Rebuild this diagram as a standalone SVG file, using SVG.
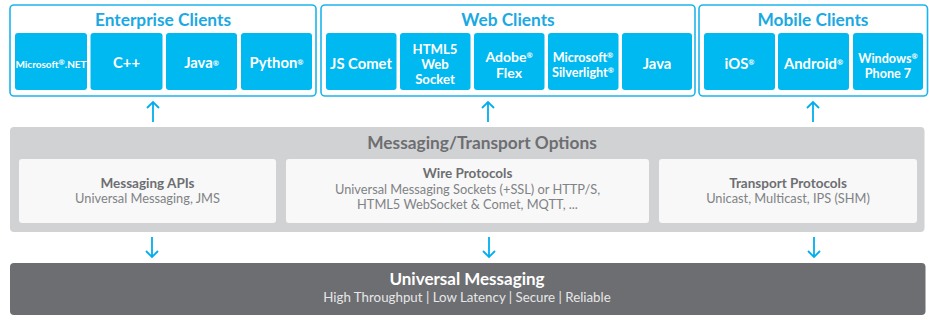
<svg xmlns="http://www.w3.org/2000/svg" width="929" height="320" viewBox="0 0 929 320">
<style>
.outer{fill:#fff;stroke:#1cb4ec;stroke-width:1.6}
.tile{fill:#00b9f0}
.ttl{font-family:Lato,"Open Sans",sans-serif;font-weight:bold;font-size:17.3px;fill:#1aa9e2;text-anchor:middle}
.tt{font-family:Lato,"Open Sans",sans-serif;font-weight:bold;font-size:14.8px;fill:#fff;text-anchor:middle}
.t3{font-size:13.2px}
.t2{font-size:14px}
.ts{font-size:12.6px}
.sup{font-size:7.5px}
.band{fill:#d1d2d4}
.inner{fill:#f8f8f8}
.h{font-family:Lato,"Open Sans",sans-serif;font-weight:bold;font-size:13.5px;fill:#6d6e71;text-anchor:middle}
.b{font-family:Lato,"Open Sans",sans-serif;font-size:12.8px;fill:#808285;text-anchor:middle}
.arr{stroke:#00aeef;stroke-width:1.8;fill:none}
</style>
<g id="enterprise">
<rect class="outer" x="10" y="5" width="306" height="91" rx="4"/>
<text class="ttl" x="163" y="26">Enterprise Clients</text>
<rect class="tile" x="15" y="33" width="72" height="57" rx="3"/>
<text class="tt" x="51" y="68" style="font-size:10px">Microsoft<tspan class="sup" dy="-3.5">®</tspan><tspan dy="3.5">.NET</tspan></text>
<rect class="tile" x="90.5" y="33" width="72" height="57" rx="3"/>
<text class="tt" x="126.5" y="68">C++</text>
<rect class="tile" x="166" y="33" width="71" height="57" rx="3"/>
<text class="tt" x="201.5" y="68">Java<tspan class="sup" dy="-2">®</tspan></text>
<rect class="tile" x="241" y="33" width="71" height="57" rx="3"/>
<text class="tt" x="276.5" y="68">Python<tspan class="sup" dy="-3">®</tspan></text>
</g>
<g id="web">
<rect class="outer" x="321" y="5" width="374" height="91" rx="4"/>
<text class="ttl" x="508" y="26">Web Clients</text>
<rect class="tile" x="326" y="33" width="70.5" height="57" rx="3"/>
<text class="tt" x="361" y="69">JS Comet</text>
<rect class="tile" x="400" y="33" width="70.5" height="57" rx="3"/>
<text class="tt t3" x="435" y="53.5">HTML5</text>
<text class="tt t3" x="435" y="68.5">Web</text>
<text class="tt t3" x="435" y="83.5">Socket</text>
<rect class="tile" x="474" y="33" width="70.5" height="57" rx="3"/>
<text class="tt t2" x="509" y="62">Adobe<tspan class="sup" dy="-4">®</tspan></text>
<text class="tt t2" x="509" y="77.5">Flex</text>
<rect class="tile" x="548" y="33" width="70.5" height="57" rx="3"/>
<text class="tt ts" x="583" y="62">Microsoft<tspan class="sup" dy="-4">®</tspan></text>
<text class="tt ts" x="583" y="76.5">Silverlight<tspan class="sup" dy="-4">®</tspan></text>
<rect class="tile" x="622" y="33" width="70" height="57" rx="3"/>
<text class="tt" x="657" y="69">Java</text>
</g>
<g id="mobile">
<rect class="outer" x="699" y="5" width="228.5" height="91" rx="4"/>
<text class="ttl" x="813" y="26">Mobile Clients</text>
<rect class="tile" x="704" y="33" width="71" height="57" rx="3"/>
<text class="tt" x="739.5" y="69">iOS<tspan class="sup" dy="-4">®</tspan></text>
<rect class="tile" x="778" y="33" width="71" height="57" rx="3"/>
<text class="tt" x="813.5" y="69">Android<tspan class="sup" dy="-4">®</tspan></text>
<rect class="tile" x="853" y="33" width="70" height="57" rx="3"/>
<text class="tt ts" x="888" y="63">Windows<tspan class="sup" dy="-4">®</tspan></text>
<text class="tt ts" x="888" y="77.5">Phone 7</text>
</g>
<g id="transport">
<rect class="band" x="10" y="127" width="914.5" height="105" rx="4"/>
<text class="h" x="482" y="149" style="font-size:17.3px">Messaging/Transport Options</text>
<rect class="inner" x="19" y="159" width="257" height="64" rx="3"/>
<text class="h" x="147.5" y="188">Messaging APIs</text>
<text class="b" x="147.5" y="203">Universal Messaging, JMS</text>
<rect class="inner" x="286" y="159" width="363" height="64" rx="3"/>
<text class="h" x="467.5" y="178">Wire Protocols</text>
<text class="b" x="467.5" y="194">Universal Messaging Sockets (+SSL) or HTTP/S,</text>
<text class="b" x="467.5" y="209">HTML5 WebSocket &amp; Comet, MQTT, ...</text>
<rect class="inner" x="659" y="159" width="258" height="64" rx="3"/>
<text class="h" x="788" y="188">Transport Protocols</text>
<text class="b" x="788" y="203">Unicast, Multicast, IPS (SHM)</text>
</g>
<g id="universal">
<rect x="10" y="263" width="915.5" height="52" rx="4" fill="#6d6e71"/>
<text x="467" y="285" style="font-family:Lato,'Open Sans',sans-serif;font-weight:bold;font-size:17px;fill:#fff;text-anchor:middle">Universal Messaging</text>
<text x="467" y="302" style="font-family:Lato,'Open Sans',sans-serif;font-size:13.3px;fill:#e6e7e8;text-anchor:middle">High Throughput  |  Low Latency  |  Secure  |  Reliable</text>
</g>
<g id="connectors">
<path class="arr" d="M153 122V102M147 108L153 102L159 108"/>
<path class="arr" d="M488 122V102M482 108L488 102L494 108"/>
<path class="arr" d="M813 122V102M807 108L813 102L819 108"/>
<path class="arr" d="M152 237V257M146 251L152 257L158 251"/>
<path class="arr" d="M489 237V257M483 251L489 257L495 251"/>
<path class="arr" d="M814 237V257M808 251L814 257L820 251"/>
</g>
</svg>
